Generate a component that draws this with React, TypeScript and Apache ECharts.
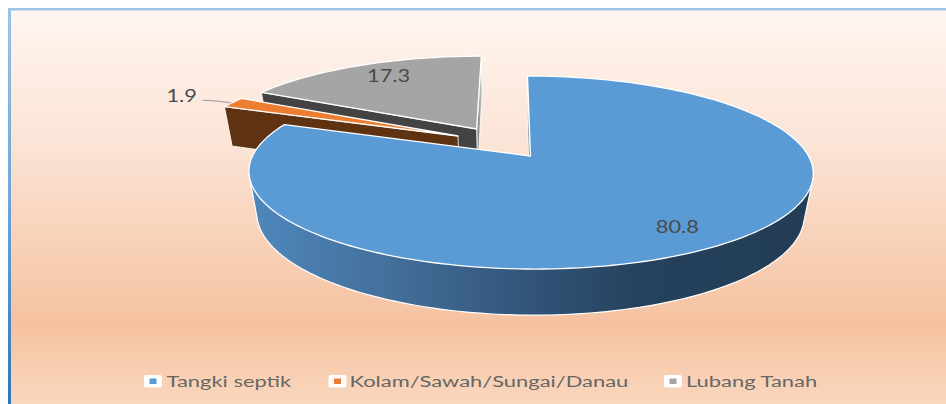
import React, { useEffect, useRef } from "react";
import * as echarts from "echarts";

// ---- data ----
const categories = ["Tangki septik", "Kolam/Sawah/Sungai/Danau", "Lubang Tanah"];
const values = [80.8, 1.9, 17.3];
const valueLabels = ["80.8", "1.9", "17.3"];

// ---- look ----
const topColors = ["#5b9bd5", "#ed7d31", "#a5a5a5"];
const explodeU = [0, -0.268, -0.2];
const explodeV = [0, 0.2215, 0.303];
const legendIconX = [144, 328.5, 664];
const legendTextX = [166.5, 349.5, 686];

// ---- perspective model of the 3D pie ----
const APEX_X = 530.5, APEX_Y = 156, KU = 278, KV = 93.7, SHEAR = -3.5, PERSP = 0.171;
const ZX = -0.5, ZY = 43, ZW = 0.03;

function project(u: number, v: number, z: number): number[] {
  const w = 1 + PERSP * v + ZW * z;
  return [APEX_X + (KU * u + SHEAR * v + ZX * z) / w, APEX_Y - (KV * v - ZY * z) / w];
}
const toRad = (d: number) => (d * Math.PI) / 180;

const total = values.reduce((a, b) => a + b, 0);
function sliceAngles(i: number): number[] {
  let acc = 0;
  for (let k = 0; k < i; k++) acc += values[k];
  return [(acc / total) * 360, ((acc + values[i]) / total) * 360];
}
function rimPoint(i: number, deg: number, r: number, z: number): number[] {
  return project(explodeU[i] + r * Math.sin(toRad(deg)), explodeV[i] + r * Math.cos(toRad(deg)), z);
}
function arcPoints(i: number, a0: number, a1: number, z: number): number[][] {
  const n = Math.max(4, Math.ceil(Math.abs(a1 - a0) / 1.5));
  const pts: number[][] = [];
  for (let k = 0; k <= n; k++) pts.push(rimPoint(i, a0 + ((a1 - a0) * k) / n, 1, z));
  return pts;
}
function convexHull(input: number[][]): number[][] {
  const pts = [...input].sort((a, b) => a[0] - b[0] || a[1] - b[1]);
  const cross = (o: number[], a: number[], b: number[]) =>
    (a[0] - o[0]) * (b[1] - o[1]) - (a[1] - o[1]) * (b[0] - o[0]);
  const half = (list: number[][]) => {
    const out: number[][] = [];
    for (const p of list) {
      while (out.length >= 2 && cross(out[out.length - 2], out[out.length - 1], p) <= 0) out.pop();
      out.push(p);
    }
    out.pop();
    return out;
  };
  return [...half(pts), ...half([...pts].reverse())];
}
function topFace(i: number) {
  const [a0, a1] = sliceAngles(i);
  return {
    type: "polygon",
    shape: { points: [rimPoint(i, 0, 0, 0), ...arcPoints(i, a0, a1, 0)] },
    style: { fill: topColors[i], stroke: "#ffffff", lineWidth: 1.3, lineJoin: "round" },
  };
}
function radialWall(i: number, deg: number, fill: any) {
  return {
    type: "polygon",
    shape: {
      points: [rimPoint(i, deg, 0, 0), rimPoint(i, deg, 1, 0), rimPoint(i, deg, 1, 1), rimPoint(i, deg, 0, 1)],
    },
    style: { fill, stroke: "#ffffff", lineWidth: 0.8, lineJoin: "round" },
  };
}
function labelEl(i: number, x: number, y: number) {
  return {
    type: "text",
    x,
    y,
    scaleX: 1.28,
    style: {
      text: valueLabels[i],
      fill: "#4a4a4a",
      font: "17px Lato",
      textAlign: "center",
      textVerticalAlign: "middle",
    },
  };
}
function midLabel(i: number, dx: number, dy: number) {
  const [a0, a1] = sliceAngles(i);
  const p = rimPoint(i, (a0 + a1) / 2, 0.8, 0);
  return labelEl(i, p[0] + dx, p[1] + dy);
}

const renderBlue = () => {
  const [a0] = sliceAngles(0);
  const hull = convexHull([...arcPoints(0, 80, 260, 0), ...arcPoints(0, 80, 260, 1)]);
  const rimGrad = new echarts.graphic.LinearGradient(0, 0, 1, 0, [
    { offset: 0, color: "#4f88bd" },
    { offset: 0.25, color: "#436f9a" },
    { offset: 0.5, color: "#325478" },
    { offset: 0.7, color: "#25415c" },
    { offset: 1, color: "#233d55" },
  ]);
  const sliverGrad = new echarts.graphic.LinearGradient(0, 0, 0, 1, [
    { offset: 0, color: "#ffffff" },
    { offset: 0.4, color: "#8fa3b5" },
    { offset: 1, color: "#243f58" },
  ]);
  return {
    type: "group",
    children: [
      radialWall(0, a0, sliverGrad),
      {
        type: "polygon",
        shape: { points: hull },
        style: { fill: rimGrad, stroke: "#ffffff", lineWidth: 1.2, lineJoin: "round" },
      },
      topFace(0),
      midLabel(0, 2, 1),
    ],
  };
};

const renderOrange = () => {
  const [a0, a1] = sliceAngles(1);
  const rim = rimPoint(1, (a0 + a1) / 2, 1, 0);
  return {
    type: "group",
    children: [
      radialWall(1, a0, "#5f3212"),
      topFace(1),
      {
        type: "bezierCurve",
        shape: {
          x1: rim[0] - 30, y1: rim[1] - 2,
          cpx1: rim[0] - 20, cpy1: rim[1] - 2.5,
          cpx2: rim[0] - 10, cpy2: rim[1] - 1,
          x2: rim[0] - 1, y2: rim[1] + 0.5,
        },
        style: { fill: "none", stroke: "#a6a6a6", lineWidth: 1.2 },
      },
      labelEl(1, rim[0] - 51, rim[1] - 7.5),
    ],
  };
};

const renderGrey = () => {
  const [a0, a1] = sliceAngles(2);
  const sideGrad = new echarts.graphic.LinearGradient(0, 0, 0, 1, [
    { offset: 0, color: "#d8d8d8" },
    { offset: 1, color: "#6b6b6b" },
  ]);
  return {
    type: "group",
    children: [radialWall(2, a1, sideGrad), radialWall(2, a0, "#434343"), topFace(2), midLabel(2, 7, -1)],
  };
};

const renderers = [renderBlue, renderOrange, renderGrey];
const drawOrder = [2, 1, 0];

const legendGraphics = categories.flatMap((name, i) => [
  {
    type: "rect",
    z: 10,
    shape: { x: legendIconX[i], y: 375, width: 18, height: 12.5, r: 2 },
    style: { fill: "#ffffff" },
  },
  {
    type: "rect",
    z: 11,
    shape: { x: legendIconX[i] + 5.5, y: 378.5, width: 7, height: 5.5 },
    style: { fill: topColors[i] },
  },
  {
    type: "text",
    z: 11,
    x: legendTextX[i],
    y: 381,
    scaleX: 1.37,
    style: {
      text: name,
      fill: "#666666",
      font: "16px Lato",
      textAlign: "left",
      textVerticalAlign: "middle",
    },
  },
]);

export default function App() {
  const ref = useRef<HTMLDivElement>(null);
  useEffect(() => {
    if (!ref.current) return;
    document.body.style.margin = "0";
    const chart = echarts.init(ref.current, undefined, { renderer: "svg" });
    chart.setOption({
      animation: false,
      backgroundColor: "#ffffff",
      graphic: [
        {
          type: "rect",
          z: -10,
          shape: { x: 8, y: 8, width: 938, height: 396 },
          style: {
            fill: new echarts.graphic.LinearGradient(0, 0, 0, 1, [
              { offset: 0, color: "#fff6f1" },
              { offset: 0.35, color: "#fbe3d5" },
              { offset: 0.8, color: "#f5c2a0" },
              { offset: 1, color: "#fad7be" },
            ]),
          },
        },
        {
          type: "rect",
          z: -9,
          shape: { x: 8, y: 8, width: 938, height: 2.5 },
          style: { fill: "#9dc3e6" },
        },
        {
          type: "rect",
          z: -9,
          shape: { x: 8, y: 8, width: 3, height: 396 },
          style: {
            fill: new echarts.graphic.LinearGradient(0, 0, 0, 1, [
              { offset: 0, color: "#9dc3e6" },
              { offset: 0.5, color: "#6ea4d6" },
              { offset: 1, color: "#2e75b6" },
            ]),
          },
        },
        ...legendGraphics,
      ],
      series: drawOrder.map((i, order) => ({
        type: "custom",
        name: categories[i],
        coordinateSystem: "none",
        silent: true,
        z: 2 + order,
        itemStyle: { color: topColors[i] },
        data: [[values[i]]],
        renderItem: renderers[i],
      })),
    });
    return () => chart.dispose();
  }, []);
  return <div ref={ref} style={{ position: "absolute", left: 0, top: 0, width: 946, height: 404 }} />;
}
